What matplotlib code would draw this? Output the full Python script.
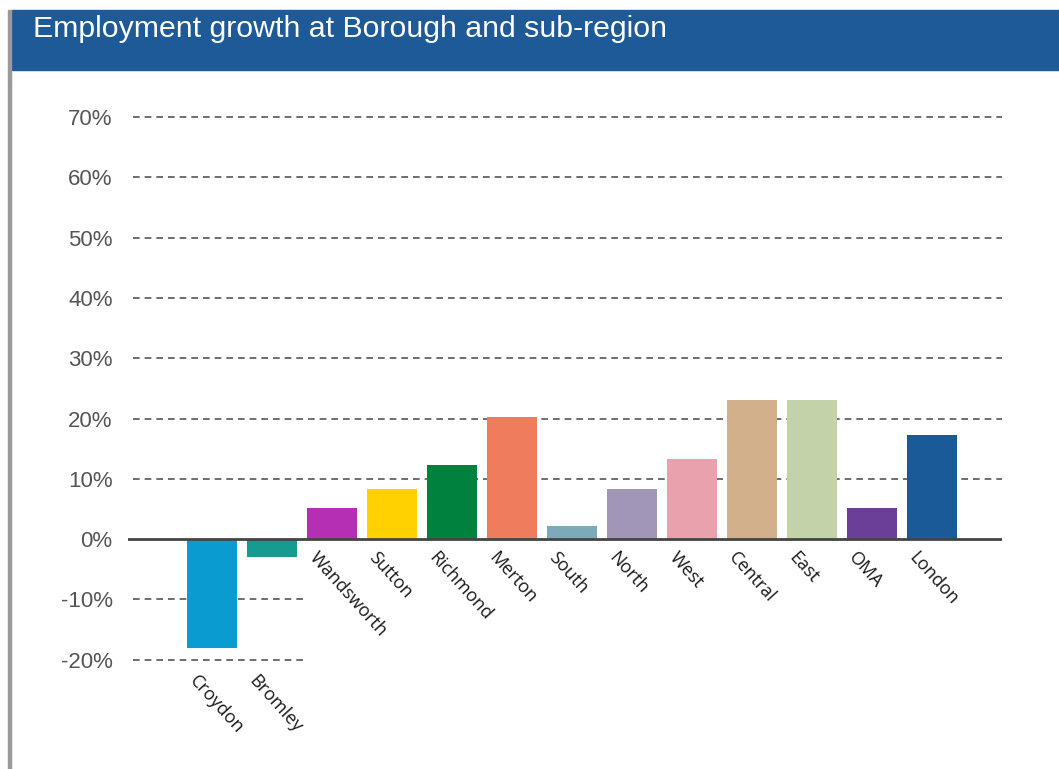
import matplotlib.pyplot as plt
from matplotlib.patches import Rectangle

# data
areas = ['Croydon', 'Bromley', 'Wandsworth', 'Sutton', 'Richmond', 'Merton',
         'South', 'North', 'West', 'Central', 'East', 'OMA', 'London']
growth = [-0.18, -0.03, 0.051, 0.083, 0.123, 0.202, 0.022, 0.083, 0.133,
          0.231, 0.231, 0.051, 0.172]
colours = ['#0a9bd0', '#159b8f', '#b52fb4', '#ffd100', '#00823f', '#ef7c5c',
           '#7ea9b8', '#a196b8', '#e9a1ae', '#d3b08c', '#c4d2a9', '#6b3f98',
           '#1b5a98']
yticks = [-0.2, -0.1, 0, 0.1, 0.2, 0.3, 0.4, 0.5, 0.6, 0.7]
ytick_labels = ['-20%', '-10%', '0%', '10%', '20%', '30%', '40%', '50%', '60%', '70%']

fig = plt.figure(figsize=(10.59, 7.69), dpi=100)
fig.patch.set_facecolor('white')

# blue header band with title
fig.patches.append(Rectangle((12 / 1059, 1 - 70 / 769), 1, 60 / 769,
                             transform=fig.transFigure, color='#1e5a97', zorder=0))
fig.patches.append(Rectangle((8 / 1059, 0), 3 / 1059, 1 - 10 / 769,
                             transform=fig.transFigure, color='#9a9a9a', zorder=0))
fig.text(33 / 1059, 1 - 29 / 769, 'Employment growth at Borough and sub-region',
         color='white', fontsize=21.8, family='Liberation Sans', va='center')

ax = fig.add_axes([128 / 1059, 49 / 769, 874 / 1059, 633 / 769])
xmin, xmax = -1.4, 13.17
x = list(range(len(areas)))

# dashed gridlines (negative ones only under the first two bars)
for t in yticks:
    if t == 0:
        continue
    right = xmax if t > 0 else 1.52
    ax.hlines(t, xmin + 0.08, right, colors='#555555', linestyles=(0, (4, 3)),
              linewidth=1.2, zorder=1)

ax.bar(x, growth, width=0.83, color=colours, zorder=2)
ax.axhline(0, color='#444444', linewidth=2, zorder=3)

# rotated category labels
for i, (name, v) in enumerate(zip(areas, growth)):
    ypos = -0.015 if v >= 0 else -0.22
    ax.text(i - 0.22, ypos, name, rotation=-48, rotation_mode='anchor',
            ha='left', va='top', fontsize=13, family='Open Sans', color='#1a1a1a')

ax.set_xlim(xmin, xmax)
ax.set_ylim(-0.30, 0.75)
ax.set_xticks([])
ax.set_yticks(yticks)
ax.set_yticklabels(ytick_labels, fontsize=16, family='Liberation Sans', color='#555555')
ax.tick_params(axis='y', length=0, pad=11)
for s in ax.spines.values():
    s.set_visible(False)

plt.savefig('out.png', dpi=100)
